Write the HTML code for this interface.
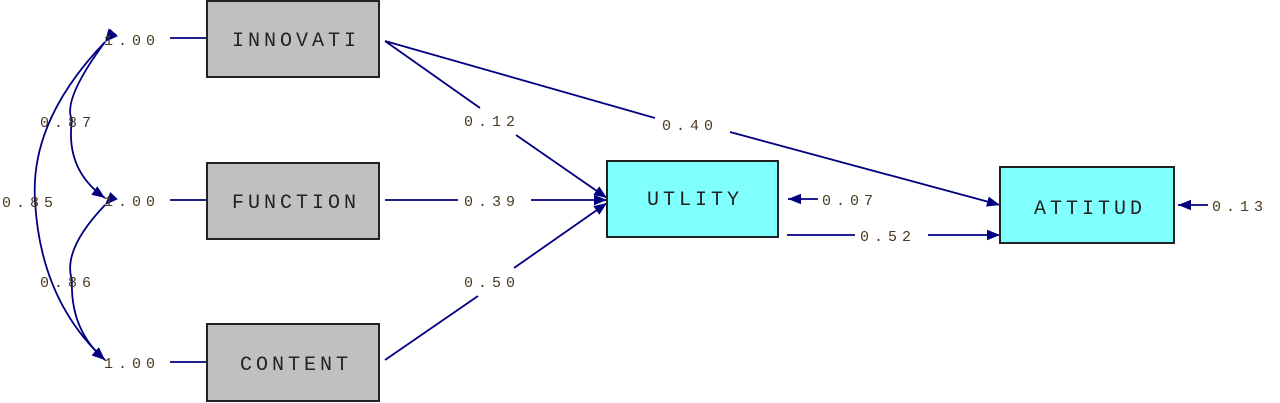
<!DOCTYPE html>
<html><head><style>
html,body{margin:0;padding:0;background:#fff;}
svg{display:block;}
text{font-family:"Liberation Mono",monospace;}
.l{font-size:15px;fill:#4a3a20;letter-spacing:5px;}
.b{font-size:20px;fill:#222;letter-spacing:4px;}
</style></head><body>
<svg width="1280" height="403" viewBox="0 0 1280 403">
<defs>
<marker id="m" viewBox="0 0 10 10" refX="10" refY="5" markerWidth="16" markerHeight="13" orient="auto" markerUnits="userSpaceOnUse">
<path d="M0,1 L10,5 L0,9 z" fill="#00007f"/></marker>
</defs>
<g stroke="#00007f" stroke-width="1.8" fill="none">
<path d="M105,42 Q62,100 72,120 Q65,170 105,198" marker-end="url(#m)" marker-start="url(#m)"/>
<path d="M105,205 Q62,250 72,280 Q70,330 105,360" marker-end="url(#m)" marker-start="url(#m)"/>
<path d="M105,42 Q30,120 35,200 Q40,300 105,360" marker-end="url(#m)" marker-start="url(#m)"/>
<line x1="170" y1="38" x2="207" y2="38"/>
<line x1="170" y1="200" x2="207" y2="200"/>
<line x1="170" y1="362" x2="207" y2="362"/>
<path d="M385,41 L480,108"/><path d="M516,135 L607,198" marker-end="url(#m)"/>
<path d="M385,200 L458,200"/><path d="M531,200 L607,200" marker-end="url(#m)"/>
<path d="M385,360 L478,296"/><path d="M514,268 L607,203" marker-end="url(#m)"/>
<path d="M385,41 L655,118"/><path d="M730,132 L1000,205" marker-end="url(#m)"/>
<path d="M787,235 L855,235"/><path d="M928,235 L1000,235" marker-end="url(#m)"/>
<path d="M818,199 L788,199" marker-end="url(#m)"/>
<path d="M1208,205 L1178,205" marker-end="url(#m)"/>
</g>
<rect x="207" y="1" width="172" height="76" fill="#c0c0c0" stroke="#222" stroke-width="2"/>
<rect x="207" y="163" width="172" height="76" fill="#c0c0c0" stroke="#222" stroke-width="2"/>
<rect x="207" y="324" width="172" height="77" fill="#c0c0c0" stroke="#222" stroke-width="2"/>
<rect x="607" y="161" width="171" height="76" fill="#80ffff" stroke="#222" stroke-width="2"/>
<rect x="1000" y="167" width="174" height="76" fill="#80ffff" stroke="#222" stroke-width="2"/>
<text class="b" x="296" y="46" text-anchor="middle">INNOVATI</text>
<text class="b" x="296" y="208" text-anchor="middle">FUNCTION</text>
<text class="b" x="296" y="370" text-anchor="middle">CONTENT</text>
<text class="b" x="695" y="205" text-anchor="middle">UTLITY</text>
<text class="b" x="1090" y="214" text-anchor="middle">ATTITUD</text>
<g class="l">
<text x="104" y="45">1.00</text>
<text x="104" y="206">1.00</text>
<text x="104" y="368">1.00</text>
<text x="40" y="127">0.87</text>
<text x="40" y="287">0.86</text>
<text x="2" y="207">0.85</text>
<text x="464" y="126">0.12</text>
<text x="464" y="206">0.39</text>
<text x="464" y="287">0.50</text>
<text x="662" y="130">0.40</text>
<text x="860" y="241">0.52</text>
<text x="822" y="205">0.07</text>
<text x="1212" y="211">0.13</text>
</g>
</svg>
</body></html>
